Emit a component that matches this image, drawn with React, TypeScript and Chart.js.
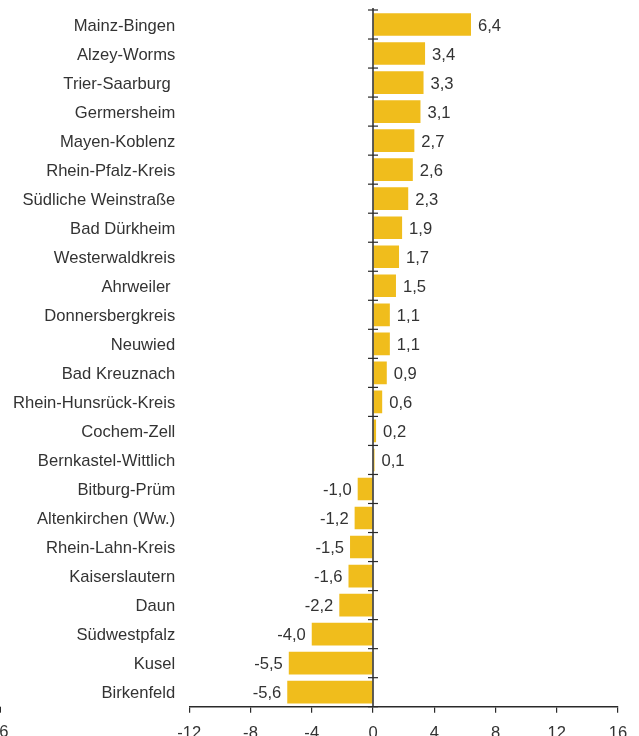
import React, { useEffect, useRef } from "react";
import { Chart, registerables } from "chart.js";

Chart.register(...registerables);

const categories = [
  "Mainz-Bingen",
  "Alzey-Worms",
  "Trier-Saarburg ",
  "Germersheim",
  "Mayen-Koblenz",
  "Rhein-Pfalz-Kreis",
  "Südliche Weinstraße",
  "Bad Dürkheim",
  "Westerwaldkreis",
  "Ahrweiler ",
  "Donnersbergkreis",
  "Neuwied",
  "Bad Kreuznach",
  "Rhein-Hunsrück-Kreis",
  "Cochem-Zell",
  "Bernkastel-Wittlich",
  "Bitburg-Prüm",
  "Altenkirchen (Ww.)",
  "Rhein-Lahn-Kreis",
  "Kaiserslautern",
  "Daun",
  "Südwestpfalz",
  "Kusel",
  "Birkenfeld",
];

const values = [
  6.4, 3.4, 3.3, 3.1, 2.7, 2.6, 2.3, 1.9, 1.7, 1.5, 1.1, 1.1, 0.9, 0.6, 0.2, 0.1,
  -1.0, -1.2, -1.5, -1.6, -2.2, -4.0, -5.5, -5.6,
];

const xMin = -12;
const xMax = 16;
const xStep = 4;
const cutTickLabel = "-16";

const FONT = "'Liberation Sans', Arial, Helvetica, sans-serif";
const SIZE = 16.6;
const TEXT = "#333333";
const BAR = "#F0BD1C";
const AXIS = "#2a2a2a";

const fmt = (v: number) => v.toFixed(1).replace(".", ",");

export default function App() {
  const ref = useRef<HTMLCanvasElement>(null);

  useEffect(() => {
    document.body.style.margin = "0";
    const overlay = {
      id: "overlay",
      afterDatasetsDraw(chart: any) {
        const ctx = chart.ctx;
        const meta = chart.getDatasetMeta(0);
        ctx.save();
        ctx.font = `${SIZE}px ${FONT}`;
        ctx.fillStyle = TEXT;
        ctx.textBaseline = "middle";
        meta.data.forEach((el: any, i: number) => {
          const v = values[i];
          if (v >= 0) {
            ctx.textAlign = "left";
            ctx.fillText(fmt(v), el.x + 7, el.y + 1.5);
          } else {
            ctx.textAlign = "right";
            ctx.fillText(fmt(v), el.x - 6, el.y + 1.5);
          }
        });
        ctx.restore();
      },
      afterDraw(chart: any) {
        const ctx = chart.ctx;
        const { top, bottom } = chart.chartArea;
        const x0 = chart.scales.x.getPixelForValue(0);
        ctx.save();
        ctx.strokeStyle = AXIS;
        ctx.lineWidth = 1.5;
        ctx.beginPath();
        ctx.moveTo(x0, top - 2);
        ctx.lineTo(x0, bottom);
        ctx.stroke();
        ctx.lineWidth = 1.2;
        const n = categories.length;
        for (let i = 0; i <= n; i++) {
          const y = top + (i * (bottom - top)) / n;
          ctx.beginPath();
          ctx.moveTo(x0 - 5, y);
          ctx.lineTo(x0 + 5, y);
          ctx.stroke();
        }
        // cut-off label at the far left
        ctx.beginPath();
        ctx.lineWidth = 1;
        ctx.moveTo(0.5, bottom);
        ctx.lineTo(0.5, bottom + 6);
        ctx.stroke();
        ctx.font = `${SIZE}px ${FONT}`;
        ctx.fillStyle = TEXT;
        ctx.textAlign = "right";
        ctx.textBaseline = "middle";
        ctx.fillText(cutTickLabel, 8.5, bottom + 26);
        ctx.restore();
      },
    };

    const chart = new Chart(ref.current!, {
      type: "bar",
      data: {
        labels: categories,
        datasets: [
          {
            data: values,
            backgroundColor: BAR,
            barPercentage: 0.78,
            categoryPercentage: 1,
          },
        ],
      },
      options: {
        indexAxis: "y",
        responsive: false,
        animation: false,
        devicePixelRatio: 1,
        layout: { padding: { left: 0, top: 10, right: 21, bottom: 0 } },
        plugins: { legend: { display: false }, tooltip: { enabled: false } },
        scales: {
          x: {
            min: xMin,
            max: xMax,
            ticks: {
              stepSize: xStep,
              autoSkip: false,
              maxRotation: 0,
              color: TEXT,
              font: { family: FONT, size: SIZE },
              padding: 11,
            },
            grid: {
              drawOnChartArea: false,
              tickLength: 6,
              tickColor: AXIS,
              lineWidth: 1.2,
            },
            border: { color: AXIS, width: 1.5 },
            afterFit: (s: any) => {
              s.height = 29.3;
              s.paddingLeft = 0;
              s.paddingRight = 0;
            },
          },
          y: {
            ticks: {
              color: TEXT,
              font: { family: FONT, size: SIZE },
              padding: 14,
              labelOffset: 1.5,
              autoSkip: false,
            },
            grid: { display: false, drawTicks: false },
            border: { display: false },
            afterFit: (s: any) => {
              s.width = 189.25;
              s.paddingTop = 0;
              s.paddingBottom = 0;
            },
          },
        },
      } as any,
      plugins: [overlay],
    });
    return () => chart.destroy();
  }, []);

  return (
    <canvas ref={ref} width={639} height={736} style={{ display: "block" }} />
  );
}
